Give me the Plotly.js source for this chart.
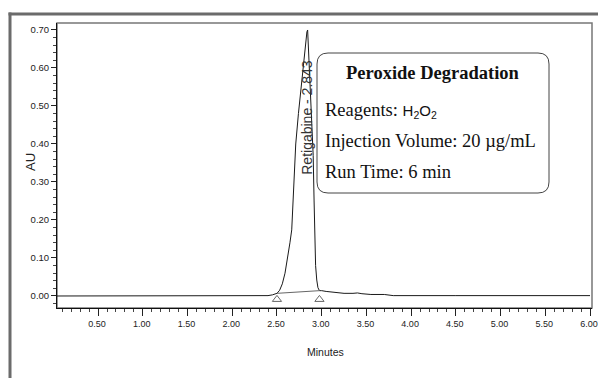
<!DOCTYPE html>
<html>
<head>
<meta charset="utf-8">
<script src="https://cdn.plot.ly/plotly-3.0.1.min.js"></script>
<style>html,body{margin:0;padding:0;background:#fff;}#chart{width:598px;height:378px;}</style>
</head>
<body>
<div id="chart"></div>
<script>
// Chromatogram signal (minutes, AU)
const timeMin = [0.04, 0.5, 1.0, 1.5, 2.0, 2.30, 2.40, 2.45, 2.50, 2.53, 2.56, 2.59, 2.62, 2.645, 2.665, 2.69, 2.71, 2.74, 2.77, 2.795, 2.815, 2.835, 2.843, 2.85, 2.86, 2.875, 2.89, 2.905, 2.915, 2.922, 2.932, 2.945, 2.958, 2.975, 3.00, 3.05, 3.15, 3.25, 3.35, 3.40, 3.45, 3.55, 3.70, 3.79, 3.80, 4.50, 5.00, 6.00];
const absorbance = [0.000, 0.000, 0.000, 0.000, 0.000, 0.000, 0.001, 0.003, 0.007, 0.015, 0.032, 0.060, 0.100, 0.140, 0.174, 0.300, 0.400, 0.480, 0.550, 0.595, 0.650, 0.695, 0.700, 0.660, 0.600, 0.500, 0.430, 0.370, 0.250, 0.150, 0.080, 0.042, 0.022, 0.014, 0.014, 0.012, 0.009, 0.007, 0.007, 0.008, 0.006, 0.004, 0.004, 0.003, 0.001, 0.001, 0.001, 0.001];

// Integration baseline and peak start/end markers
const baseTime = [2.50, 2.975];
const baseAU = [0.007, 0.014];
const markerAU = [-0.009, -0.009];

const peakName = "Retigabine - 2.843";
const peakTime = 2.84;
const peakLabelAU = 0.47;

const xTickVals = [0.5, 1.0, 1.5, 2.0, 2.5, 3.0, 3.5, 4.0, 4.5, 5.0, 5.5, 6.0];
const yTickVals = [0.0, 0.1, 0.2, 0.3, 0.4, 0.5, 0.6, 0.7];

const boxTitle = "Peroxide Degradation";
const boxLines = [
  'Reagents: <span style="font-family:Liberation Sans, Arial; font-size:15px">H<sub>2</sub>O<sub>2</sub></span>',
  "Injection Volume: 20 µg/mL",
  "Run Time: 6 min"
];

// layout geometry (pixels)
const W = 598, H = 378, L = 57, R = 6, T = 23, B = 70;
const pw = W - L - R, ph = H - T - B;
const px = x => (x - L) / pw;
const py = y => (H - B - y) / ph;

function roundRect(x0, y0, x1, y1, r) {
  const X0 = px(x0), X1 = px(x1), Y0 = py(y0), Y1 = py(y1);
  const rx = r / pw, ry = r / ph;
  return `M ${X0 + rx} ${Y0} L ${X1 - rx} ${Y0} Q ${X1} ${Y0} ${X1} ${Y0 - ry} ` +
         `L ${X1} ${Y1 + ry} Q ${X1} ${Y1} ${X1 - rx} ${Y1} ` +
         `L ${X0 + rx} ${Y1} Q ${X0} ${Y1} ${X0} ${Y1 + ry} ` +
         `L ${X0} ${Y0 - ry} Q ${X0} ${Y0} ${X0 + rx} ${Y0} Z`;
}

const sans = "Liberation Sans, Arial, sans-serif";
const serif = "Liberation Serif, Times New Roman, serif";

const traces = [
  {
    x: timeMin, y: absorbance, type: "scatter", mode: "lines",
    line: {color: "#1a1a1a", width: 1}, hoverinfo: "skip"
  },
  {
    x: baseTime, y: baseAU, type: "scatter", mode: "lines",
    line: {color: "#666", width: 1}, hoverinfo: "skip"
  },
  {
    x: baseTime, y: markerAU, type: "scatter", mode: "markers",
    marker: {symbol: "triangle-up-open", size: 8, color: "#666", line: {width: 1, color: "#666"}},
    hoverinfo: "skip"
  }
];

const annotations = [
  {
    xref: "x", yref: "y", x: peakTime, y: peakLabelAU, text: peakName,
    textangle: -90, showarrow: false, xanchor: "center", yanchor: "middle",
    font: {family: sans, size: 14, color: "#333"}
  },
  {
    xref: "paper", yref: "paper", x: px(433), y: py(73), text: "<b>" + boxTitle + "</b>",
    showarrow: false, xanchor: "center", yanchor: "middle",
    font: {family: serif, size: 18.5, color: "#111"}
  },
  {
    xref: "paper", yref: "paper", x: px(323), y: py(111), text: boxLines[0],
    showarrow: false, xanchor: "left", yanchor: "middle",
    font: {family: serif, size: 18.5, color: "#111"}
  },
  {
    xref: "paper", yref: "paper", x: px(323), y: py(141), text: boxLines[1],
    showarrow: false, xanchor: "left", yanchor: "middle",
    font: {family: serif, size: 18.5, color: "#111"}
  },
  {
    xref: "paper", yref: "paper", x: px(323), y: py(172), text: boxLines[2],
    showarrow: false, xanchor: "left", yanchor: "middle",
    font: {family: serif, size: 18.5, color: "#111"}
  },
  {
    xref: "paper", yref: "paper", x: px(30), y: py(162), text: "AU",
    textangle: -90, showarrow: false, xanchor: "center", yanchor: "middle",
    font: {family: sans, size: 13, color: "#222"}
  },
  {
    xref: "paper", yref: "paper", x: px(325), y: py(352), text: "Minutes",
    showarrow: false, xanchor: "center", yanchor: "middle",
    font: {family: sans, size: 10.5, color: "#222"}
  }
];

const shapes = [
  // plot frame (top/right in gray)
  {type: "rect", xref: "paper", yref: "paper", x0: 0, y0: 0, x1: 1, y1: 1,
   line: {color: "#777", width: 1.5}, layer: "below"},
  // outer frame of picture
  {type: "line", xref: "paper", yref: "paper", x0: px(8.5), y0: py(14), x1: px(600), y1: py(14),
   line: {color: "#6b6b6b", width: 3}},
  {type: "line", xref: "paper", yref: "paper", x0: px(10), y0: py(12.5), x1: px(10), y1: py(380),
   line: {color: "#6b6b6b", width: 3}},
  // legend box
  {type: "path", xref: "paper", yref: "paper", path: roundRect(317, 53, 549, 193, 11),
   line: {color: "#444", width: 1}, fillcolor: "rgba(255,255,255,1)"}
];

const layout = {
  width: W, height: H,
  margin: {l: L, r: R, t: T, b: B, pad: 0},
  paper_bgcolor: "#fff", plot_bgcolor: "#fff",
  showlegend: false,
  xaxis: {
    range: [0.041, 6.022], tickvals: xTickVals, tickformat: ".2f",
    ticks: "outside", ticklen: 7, tickcolor: "#222", tickwidth: 1,
    ticklabeloverflow: "allow", ticklabelshift: -1,
    minor: {dtick: 0.1, tick0: 0, ticks: "outside", ticklen: 3, tickcolor: "#444", showgrid: false},
    showline: true, linecolor: "#111", linewidth: 1, showgrid: false, zeroline: false,
    tickfont: {family: sans, size: 9, color: "#222"}, fixedrange: true
  },
  yaxis: {
    range: [-0.0316, 0.7184], tickvals: yTickVals, tickformat: ".2f",
    ticks: "outside", ticklen: 5, tickcolor: "#222", tickwidth: 1,
    minor: {dtick: 0.02, tick0: 0, ticks: "outside", ticklen: 3, tickcolor: "#444", showgrid: false},
    showline: true, linecolor: "#111", linewidth: 1, showgrid: false, zeroline: false,
    tickfont: {family: sans, size: 9.5, color: "#222"}, fixedrange: true
  },
  annotations: annotations,
  shapes: shapes
};

Plotly.newPlot("chart", traces, layout, {displayModeBar: false, staticPlot: true});
</script>
</body>
</html>
